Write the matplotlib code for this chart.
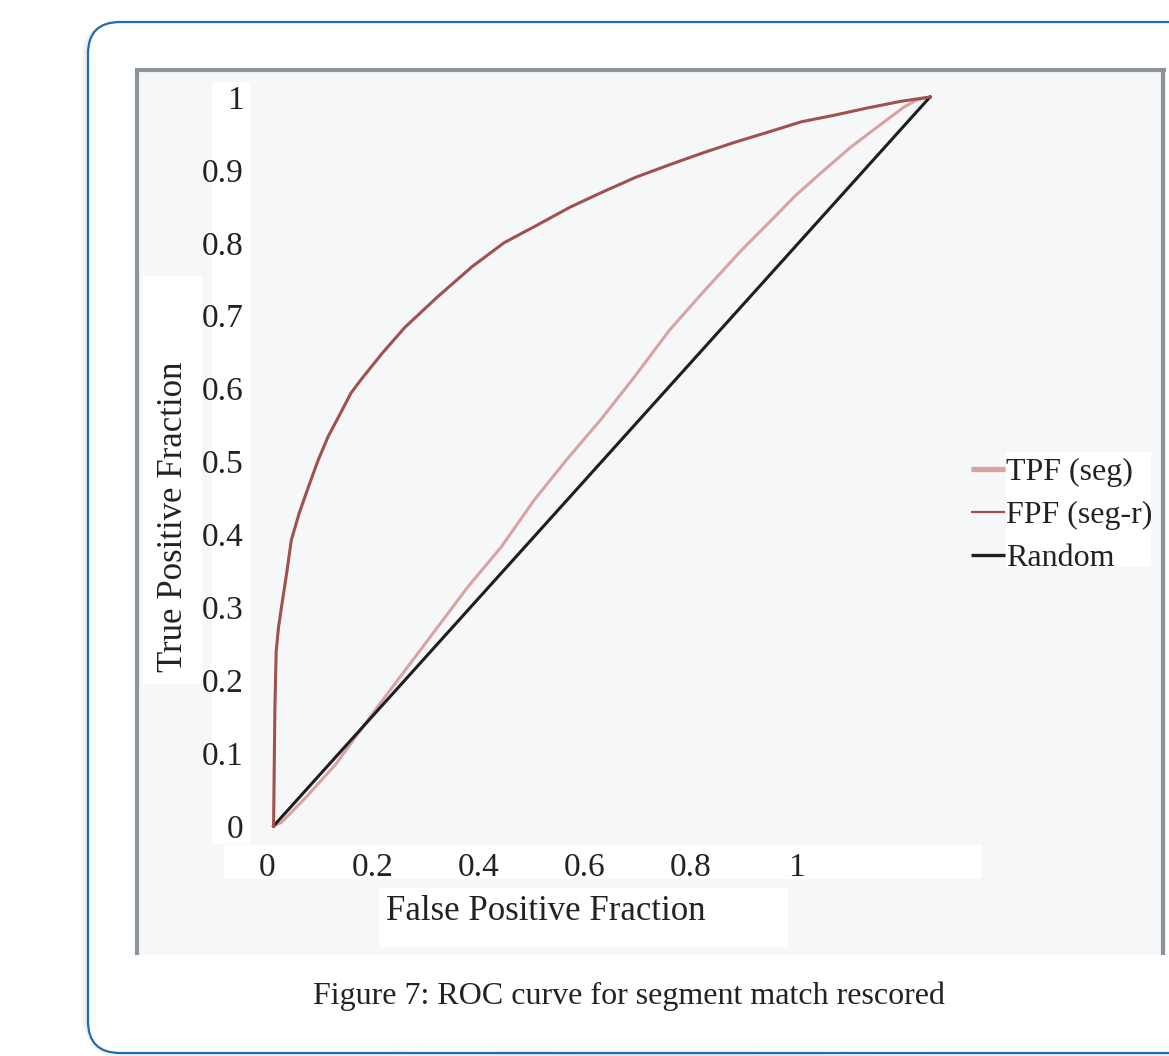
import matplotlib
matplotlib.use("Agg")
import matplotlib.pyplot as plt
import matplotlib.lines as mlines
from matplotlib.patches import FancyBboxPatch, Rectangle

plt.rcParams["font.family"] = ["Liberation Serif", "DejaVu Serif"]

W, H = 1169, 1056

# values
tpf_x = [0, 0.012, 0.05, 0.095, 0.158, 0.22, 0.296, 0.347, 0.397, 0.446, 0.498,
         0.548, 0.603, 0.653, 0.713, 0.754, 0.793, 0.834, 0.879, 0.92, 0.96, 0.98, 1.0]
tpf_y = [0, 0.005, 0.04, 0.085, 0.163, 0.237, 0.328, 0.383, 0.447, 0.502, 0.557,
         0.614, 0.68, 0.731, 0.79, 0.827, 0.863, 0.896, 0.931, 0.959, 0.986, 0.996, 1.0]

fpf_x = [0, 0.002, 0.004, 0.0075, 0.012, 0.02, 0.027, 0.039, 0.053, 0.068, 0.083,
         0.103, 0.118, 0.133, 0.165, 0.2, 0.25, 0.302, 0.351, 0.401, 0.452, 0.502,
         0.552, 0.603, 0.653, 0.703, 0.754, 0.804, 0.854, 0.905, 0.955, 1.0]
fpf_y = [0, 0.16, 0.24, 0.272, 0.30, 0.347, 0.392, 0.429, 0.465, 0.502, 0.534,
         0.568, 0.594, 0.612, 0.648, 0.684, 0.726, 0.767, 0.80, 0.824, 0.849, 0.87,
         0.89, 0.907, 0.923, 0.938, 0.952, 0.966, 0.975, 0.985, 0.994, 1.0]

rand_x = [0, 1]
rand_y = [0, 1]

y_ticks = [0, 0.1, 0.2, 0.3, 0.4, 0.5, 0.6, 0.7, 0.8, 0.9, 1]
y_tick_labels = ["0", "0.1", "0.2", "0.3", "0.4", "0.5", "0.6", "0.7", "0.8", "0.9", "1"]
x_tick_values = [0, 0.2, 0.4, 0.6, 0.8, 1]
x_tick_labels = ["0", "0.2", "0.4", "0.6", "0.8", "1"]
labels = ["TPF (seg)", "FPF (seg-r)", "Random"]

pink = "#d9a3a3"
red = "#a0514d"
black = "#1e1e1e"
txt = "#222222"

fig = plt.figure(figsize=(W / 100, H / 100), dpi=100)
fig.patch.set_facecolor("white")

# background layer in pixel units (y down)
bg = fig.add_axes([0, 0, 1, 1])
bg.set_xlim(0, W)
bg.set_ylim(H, 0)
bg.axis("off")

# card shadow and card
for i, a in enumerate([0.05, 0.035, 0.02]):
    bg.add_patch(FancyBboxPatch((87 - i * 2, 23 + i), 1200, 1032 + i * 2,
                                boxstyle="round,pad=0,rounding_size=33",
                                fc="none", ec=(0, 0, 0, a), lw=2.5))
bg.add_patch(FancyBboxPatch((88, 22), 1200, 1031, boxstyle="round,pad=0,rounding_size=32",
                            fc="white", ec="#1f6db0", lw=1.6))

# chart image frame
bg.add_patch(Rectangle((135, 68), 1031, 887, fc="#f6f7f9", ec="none"))
frame = "#8b939b"
bg.plot([137, 137], [955, 70], color=frame, lw=3, solid_capstyle="butt")
bg.plot([135, 1166], [70, 70], color=frame, lw=3, solid_capstyle="butt")
bg.plot([1163, 1163], [70, 955], color=frame, lw=3, solid_capstyle="butt")

# white label boxes
for x0, y0, x1, y1 in [(212, 82, 250, 844), (143, 276, 202, 684), (224, 845, 982, 879),
                       (379, 888, 788, 947), (1006, 452, 1151, 567)]:
    bg.add_patch(Rectangle((x0, y0), x1 - x0, y1 - y0, fc="white", ec="none"))

bg.text(173, 517, "True Positive Fraction", rotation=90, ha="center", va="center",
        fontsize=25, color=txt)
bg.text(546, 912, "False Positive Fraction", ha="center", va="center",
        fontsize=25, color=txt)
bg.text(629, 996, "Figure 7: ROC curve for segment match rescored", ha="center",
        va="center", fontsize=23, color=txt)

# plot area
ax = fig.add_axes([267 / W, (H - 826) / H, 663 / W, 729 / H])
ax.patch.set_alpha(0)
for s in ax.spines.values():
    s.set_visible(False)
ax.set_xlim(0, 1)
ax.set_ylim(0, 1)

ax.plot(tpf_x, tpf_y, color=pink, lw=2.2, clip_on=False)
ax.plot(rand_x, rand_y, color=black, lw=2.2, clip_on=False)
ax.plot(fpf_x, fpf_y, color=red, lw=2.2, clip_on=False)

ax.set_yticks(y_ticks, y_tick_labels)
ax.tick_params(axis="y", length=0, pad=17, labelsize=24, labelcolor=txt)
# the picture's x tick labels sit on a compressed, shifted scale
x_off, x_scale = -0.01, 0.806
ax.set_xticks([x_off + v * x_scale for v in x_tick_values], x_tick_labels)
ax.tick_params(axis="x", length=0, pad=19, labelsize=24, labelcolor=txt)

handles = [mlines.Line2D([], [], color=pink, lw=3.8, solid_capstyle="butt"),
           mlines.Line2D([], [], color=red, lw=1.6, solid_capstyle="butt"),
           mlines.Line2D([], [], color=black, lw=2.4, solid_capstyle="butt")]
leg = fig.legend(handles, labels, loc="upper left", bbox_to_anchor=(971 / W, 1 - 458 / H),
                 frameon=False, handlelength=1.05, handletextpad=0.05, borderpad=0,
                 borderaxespad=0, labelspacing=0.42, fontsize=23)
for t in leg.get_texts():
    t.set_color(txt)

fig.savefig("out.png", dpi=100)
